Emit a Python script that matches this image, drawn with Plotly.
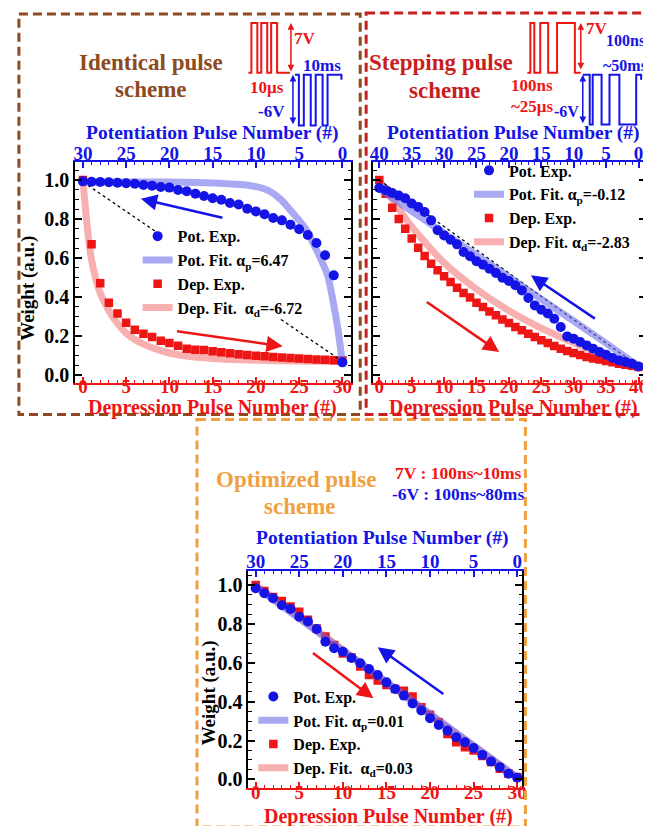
import plotly.graph_objects as go

W, H = 651, 826
FONT = "Liberation Serif, Times New Roman, serif"
BLUE = "#1414E6"
RED = "#EE1515"
LBLUE = "rgba(110,110,235,0.6)"
LRED = "rgba(240,110,110,0.55)"

# ---------------- data ----------------
# Identical pulse scheme
id_dep_pulse = list(range(31))
id_dep_weight = [1.0, 0.67, 0.47, 0.37, 0.315, 0.268, 0.232, 0.212, 0.195, 0.176, 0.164,
                 0.15, 0.135, 0.13, 0.128, 0.122, 0.117, 0.112, 0.107, 0.103, 0.099,
                 0.096, 0.093, 0.09, 0.087, 0.085, 0.082, 0.08, 0.078, 0.076, 0.074]
id_pot_pulse = list(range(31))
id_pot_weight = [0.065, 0.511, 0.614, 0.677, 0.718, 0.747, 0.771, 0.793, 0.805, 0.824, 0.839,
                 0.853, 0.874, 0.882, 0.899, 0.906, 0.918, 0.930, 0.942, 0.949, 0.961,
                 0.964, 0.971, 0.974, 0.981, 0.983, 0.986, 0.988, 0.990, 0.991, 0.993]
id_potfit_pulse = [0, 0.5, 1, 1.7, 2.7, 3.4, 4.2, 5.0, 5.9, 7.1, 8.6, 10.9, 15, 20, 30]
id_potfit_weight = [0.065, 0.23, 0.36, 0.511, 0.614, 0.677, 0.747, 0.793, 0.839, 0.899,
                    0.947, 0.973, 0.985, 0.99, 0.99]
id_depfit_pulse = [0, 0.3, 0.7, 1, 1.5, 2, 3, 4, 5, 6, 7, 8, 10, 12, 15, 20, 25, 30]
id_depfit_weight = [1.0, 0.85, 0.68, 0.59, 0.49, 0.42, 0.33, 0.265, 0.215, 0.182, 0.158,
                    0.14, 0.113, 0.097, 0.085, 0.076, 0.072, 0.07]
id_ideal_seg1_x = [0, 8.6]
id_ideal_seg1_y = [0.99, 0.73]
id_ideal_seg2_x = [22.9, 29.5]
id_ideal_seg2_y = [0.285, 0.085]
id_alpha_p, id_alpha_d = "6.47", "-6.72"

# Stepping pulse scheme
st_dep_pulse = list(range(41))
st_dep_weight = [1.0, 0.93, 0.858, 0.80, 0.75, 0.70, 0.653, 0.61, 0.571, 0.537, 0.506,
                 0.477, 0.448, 0.42, 0.397, 0.371, 0.349, 0.326, 0.306, 0.285, 0.267,
                 0.246, 0.229, 0.212, 0.195, 0.178, 0.164, 0.149, 0.135, 0.123, 0.113,
                 0.103, 0.092, 0.085, 0.079, 0.072, 0.065, 0.058, 0.053, 0.048, 0.041]
st_pot_pulse = list(range(41))
st_pot_weight = [0.044, 0.058, 0.067, 0.075, 0.087, 0.104, 0.118, 0.135, 0.152, 0.169, 0.186,
                 0.198, 0.246, 0.289, 0.315, 0.335, 0.357, 0.395, 0.434, 0.460, 0.482,
                 0.499, 0.523, 0.545, 0.566, 0.583, 0.609, 0.631, 0.670, 0.694, 0.716,
                 0.742, 0.793, 0.836, 0.862, 0.879, 0.906, 0.920, 0.933, 0.947, 0.959]
st_potfit_pulse = [0, 5, 10, 15, 20, 25, 30, 35, 40]
st_potfit_weight = [0.045, 0.163, 0.277, 0.389, 0.502, 0.614, 0.727, 0.84, 0.955]
st_depfit_pulse = [0, 2, 5, 10, 15, 20, 25, 30, 35, 40]
st_depfit_weight = [1.0, 0.9, 0.76, 0.575, 0.44, 0.33, 0.24, 0.165, 0.1, 0.04]
st_ideal_x = [0, 40]
st_ideal_y = [1.0, 0.045]
st_alpha_p, st_alpha_d = "-0.12", "-2.83"

# Optimized pulse scheme
op_dep_pulse = list(range(31))
op_dep_weight = [1.0, 0.969, 0.938, 0.918, 0.889, 0.862, 0.821, 0.776, 0.735, 0.691, 0.648,
                 0.627, 0.58, 0.537, 0.508, 0.485, 0.465, 0.456, 0.426, 0.371, 0.333,
                 0.294, 0.234, 0.191, 0.166, 0.149, 0.12, 0.089, 0.055, 0.029, 0.012]
op_pot_pulse = list(range(31))
op_pot_weight = [0.009, 0.029, 0.063, 0.092, 0.126, 0.161, 0.191, 0.217, 0.251, 0.28, 0.315,
                 0.354, 0.391, 0.431, 0.465, 0.499, 0.537, 0.568, 0.597, 0.624, 0.656,
                 0.674, 0.708, 0.773, 0.812, 0.836, 0.876, 0.896, 0.932, 0.957, 0.983]
op_potfit_pulse = [0, 10, 20, 30]
op_potfit_weight = [0.01, 0.337, 0.663, 0.99]
op_depfit_pulse = [0, 10, 20, 30]
op_depfit_weight = [1.0, 0.667, 0.333, 0.01]
op_alpha_p, op_alpha_d = "0.01", "0.03"

tick_vals_30 = [0, 5, 10, 15, 20, 25, 30]
tick_vals_40 = [0, 5, 10, 15, 20, 25, 30, 35, 40]
weight_ticks = [0.0, 0.2, 0.4, 0.6, 0.8, 1.0]

# ---------------- helpers ----------------
def px(x):
    return x / W

def py(y):
    return 1 - y / H

fig = go.Figure()


def add_panel(xb, xt, yax, leg, dep_x, dep_y, pot_x, pot_y, pf_x, pf_y, df_x, df_y, ap, ad, dspace):
    fig.add_trace(go.Scatter(x=pf_x, y=pf_y, xaxis=xt, yaxis=yax, mode="lines", line=dict(color=LBLUE, width=7, shape="spline", smoothing=0.6),
                             name=f"Pot. Fit. α<sub>p</sub>={ap}", legend=leg, legendrank=2))
    fig.add_trace(go.Scatter(x=df_x, y=df_y, xaxis=xb, yaxis=yax, mode="lines", line=dict(color=LRED, width=7, shape="spline", smoothing=0.6),
                             name=f"Dep. Fit.{dspace}α<sub>d</sub>={ad}", legend=leg, legendrank=4))
    fig.add_trace(go.Scatter(x=dep_x, y=dep_y, xaxis=xb, yaxis=yax, mode="markers", marker=dict(symbol="square", size=8.5, color=RED),
                             name="Dep. Exp.", legend=leg, legendrank=3))
    fig.add_trace(go.Scatter(x=pot_x, y=pot_y, xaxis=xt, yaxis=yax, mode="markers", marker=dict(symbol="circle", size=10, color=BLUE),
                             name="Pot. Exp.", legend=leg, legendrank=1))


add_panel("x", "x2", "y", "legend", id_dep_pulse, id_dep_weight, id_pot_pulse, id_pot_weight,
          id_potfit_pulse, id_potfit_weight, id_depfit_pulse, id_depfit_weight, id_alpha_p, id_alpha_d, " &nbsp;")
add_panel("x3", "x4", "y2", "legend2", st_dep_pulse, st_dep_weight, st_pot_pulse, st_pot_weight,
          st_potfit_pulse, st_potfit_weight, st_depfit_pulse, st_depfit_weight, st_alpha_p, st_alpha_d, " ")
add_panel("x5", "x6", "y3", "legend3", op_dep_pulse, op_dep_weight, op_pot_pulse, op_pot_weight,
          op_potfit_pulse, op_potfit_weight, op_depfit_pulse, op_depfit_weight, op_alpha_p, op_alpha_d, " &nbsp;")

dash_line = dict(color="black", width=1.3, dash="3px,3px")
fig.add_trace(go.Scatter(x=id_ideal_seg1_x, y=id_ideal_seg1_y, xaxis="x", yaxis="y", mode="lines", line=dash_line, showlegend=False))
fig.add_trace(go.Scatter(x=id_ideal_seg2_x, y=id_ideal_seg2_y, xaxis="x", yaxis="y", mode="lines", line=dash_line, showlegend=False))
fig.add_trace(go.Scatter(x=st_ideal_x, y=st_ideal_y, xaxis="x3", yaxis="y2", mode="lines", line=dash_line, showlegend=False))


def tfont(color):
    return dict(family=FONT, size=19, color=color, weight="bold")


def xaxis_bottom(domain, rng, ticks, anchor):
    return dict(domain=domain, range=rng, anchor=anchor, tickvals=ticks, ticks="inside", ticklen=6, tickwidth=1.5,
                tickcolor=RED, linecolor=RED, linewidth=2, showline=True, showgrid=False, zeroline=False,
                tickfont=tfont(RED), minor=dict(ticks="inside", dtick=1, ticklen=3, tickcolor=RED, tickwidth=1.2),
                ticklabelstandoff=-14)


def xaxis_top(overlay, rng, ticks, anchor):
    return dict(overlaying=overlay, side="top", range=rng, anchor=anchor, tickvals=ticks, ticks="inside", ticklen=6,
                tickwidth=1.5, tickcolor=BLUE, linecolor=BLUE, linewidth=2, showline=True, showgrid=False,
                zeroline=False, tickfont=tfont(BLUE),
                minor=dict(ticks="inside", dtick=1, ticklen=3, tickcolor=BLUE, tickwidth=1.2), ticklabelstandoff=-7)


def yaxis(domain, rng, anchor, labels):
    return dict(domain=domain, range=rng, anchor=anchor, tickvals=weight_ticks, tickformat=".1f", ticks="inside",
                ticklen=7, tickwidth=1.5, tickcolor="black", linecolor="black", linewidth=2, showline=True,
                mirror="ticks", showgrid=False, zeroline=False, showticklabels=labels,
                tickfont=dict(family=FONT, size=20, color="black", weight="bold"),
                minor=dict(ticks="inside", dtick=0.05, ticklen=3.5, tickcolor="black", tickwidth=1.2),
                ticklabelstandoff=0)


fig.update_layout(
    width=W, height=H, margin=dict(l=0, r=0, t=0, b=0), paper_bgcolor="white", plot_bgcolor="white",
    xaxis=xaxis_bottom([px(65), px(344)], [-0.88, 31.03], tick_vals_30, "y"),
    xaxis2=xaxis_top("x", [30.88, -1.03], tick_vals_30, "y"),
    xaxis3=xaxis_bottom([px(366), px(642)], [-0.96, 41.17], tick_vals_40, "y2"),
    xaxis4=xaxis_top("x3", [40.96, -1.17], tick_vals_40, "y2"),
    xaxis5=xaxis_bottom([px(240), px(517)], [-0.83, 30.6], tick_vals_30, "y3"),
    xaxis6=xaxis_top("x5", [30.83, -0.6], tick_vals_30, "y3"),
    yaxis=yaxis([py(376), py(155)], [-0.039, 1.09], "x", True),
    yaxis2=yaxis([py(376), py(155)], [-0.039, 1.09], "x3", False),
    yaxis3=yaxis([py(783), py(565)], [-0.045, 1.072], "x5", True),
    showlegend=True,
)

leg_common = dict(xanchor="left", yanchor="top", bgcolor="rgba(0,0,0,0)", borderwidth=0, tracegroupgap=0,
                  font=dict(family=FONT, size=16, color="black", weight="bold"), traceorder="normal")
fig.update_layout(
    legend=dict(x=px(128), y=py(212), **leg_common),
    legend2=dict(x=px(463), y=py(146), **leg_common),
    legend3=dict(x=px(245), y=py(674), **leg_common),
)

annots = []


def text(x, y, s, color, size, angle=0):
    annots.append(dict(x=px(x), y=py(y), xref="paper", yref="paper", text=s, showarrow=False, xanchor="center",
                       yanchor="middle", textangle=angle, font=dict(family=FONT, size=size, color=color, weight="bold")))


# axis titles
text(204, 125, "Potentiation Pulse Number (#)", BLUE, 19.5)
text(204, 401, "Depression Pulse Number (#)", RED, 20)
text(17, 281, "Weight (a.u.)", "black", 19, -90)
text(508, 125, "Potentiation Pulse Number (#)", BLUE, 19.5)
text(508, 401, "Depression Pulse Number (#)", RED, 20)
text(376, 532, "Potentiation Pulse Number (#)", BLUE, 19.5)
text(382, 811, "Depression Pulse Number (#)", RED, 20)
text(200, 687, "Weight (a.u.)", "black", 19, -90)

# scheme titles
BROWN = "#8C4A1E"
DRED = "#C81E1E"
ORANGE = "#EFA040"
text(142, 55, "Identical pulse", BROWN, 23)
text(142, 82, "scheme", BROWN, 23)
text(435, 55, "Stepping pulse", DRED, 23)
text(439, 83, "scheme", DRED, 23)
text(288, 473, "Optimized pulse", ORANGE, 23)
text(292, 500, "scheme", ORANGE, 23)
text(452, 467, "7V : 100ns~10ms", RED, 17.5)
text(452, 488, "-6V : 100ns~80ms", BLUE, 17.5)

# pulse labels
text(297, 31, "7V", RED, 17)
text(314, 58, "10ms", BLUE, 17)
text(259, 80, "10μs", RED, 17)
text(263, 104, "-6V", BLUE, 17)
text(592, 21, "7V", RED, 17)
text(621, 33, "100ns", BLUE, 16)
text(621, 58, "~50ms", BLUE, 16)
text(527, 78, "100ns", RED, 17)
text(527, 99, "~25μs", RED, 17)
text(562, 104, "-6V", BLUE, 16)


def arrow(xr, yr, hx, hy, tx, ty, color):
    annots.append(dict(x=hx, y=hy, ax=tx, ay=ty, xref=xr, yref=yr, axref=xr, ayref=yr, text="", showarrow=True,
                       arrowhead=2, arrowsize=1.3, arrowwidth=2.5, arrowcolor=color))


arrow("x", "y", 6.7, 0.904, 16.3, 0.805, BLUE)
arrow("x", "y", 23.1, 0.147, 10.7, 0.226, RED)
arrow("x3", "y2", 23.4, 0.511, 33.5, 0.284, BLUE)
arrow("x3", "y2", 18.5, 0.118, 7.1, 0.38, RED)
arrow("x5", "y3", 13.5, 0.417, 6.4, 0.656, RED)
arrow("x5", "y3", 14.0, 0.679, 21.7, 0.434, BLUE)


def vdouble(x, y0, y1, color):
    annots.append(dict(x=px(x), y=py(y0), xref="paper", yref="paper", ax=0, ay=(y1 - y0), text="",
                       showarrow=True, arrowside="end+start", arrowhead=2, arrowsize=0.9, arrowwidth=1.5,
                       arrowcolor=color))


vdouble(283, 15, 65, RED)
vdouble(285, 67, 118, BLUE)
vdouble(576, 15, 63, RED)
vdouble(578, 67, 117, BLUE)

fig.update_layout(annotations=annots)

# decorative pulse waveforms and dashed boxes
def path(points):
    return "M " + " L ".join(f"{px(a):.5f},{py(b):.5f}" for a, b in points)

wave_tl_red = [(240, 65), (243, 65), (243, 15), (249, 15), (249, 65), (253, 65), (253, 15), (259, 15), (259, 65),
               (263, 65), (263, 15), (269, 15), (269, 65), (282, 65)]
wave_tl_blue = [(287, 67), (291, 67), (291, 118), (296, 118), (296, 67), (303, 67), (303, 118), (308, 118),
                (308, 67), (315, 67), (315, 118), (320, 118), (320, 67), (334, 67), (334, 72)]
wave_tr_red = [(522, 65), (525, 65), (525, 15), (529, 15), (529, 65), (535, 65), (535, 15), (543, 15), (543, 65),
               (552, 65), (552, 15), (570, 15), (570, 65), (576, 65)]
wave_tr_blue = [(578, 67), (585, 67), (585, 117), (588, 117), (588, 67), (597, 67), (597, 117), (605, 117),
                (605, 67), (615, 67), (615, 117), (632, 117), (632, 67), (637, 67), (637, 72)]

shapes = []
for pts, col in [(wave_tl_red, RED), (wave_tl_blue, BLUE), (wave_tr_red, RED), (wave_tr_blue, BLUE)]:
    shapes.append(dict(type="path", path=path(pts), xref="paper", yref="paper", line=dict(color=col, width=2)))

for (x0, y0, x1, y1, col) in [(8, 6, 353, 408, BROWN), (359, 5, 648, 408, DRED), (188, 413, 520, 822, ORANGE)]:
    shapes.append(dict(type="rect", x0=px(x0), x1=px(x1), y0=py(y0), y1=py(y1), xref="paper", yref="paper",
                       line=dict(color=col, width=3, dash="9px,5px")))

fig.update_layout(shapes=shapes)

fig.write_html("out.html")
